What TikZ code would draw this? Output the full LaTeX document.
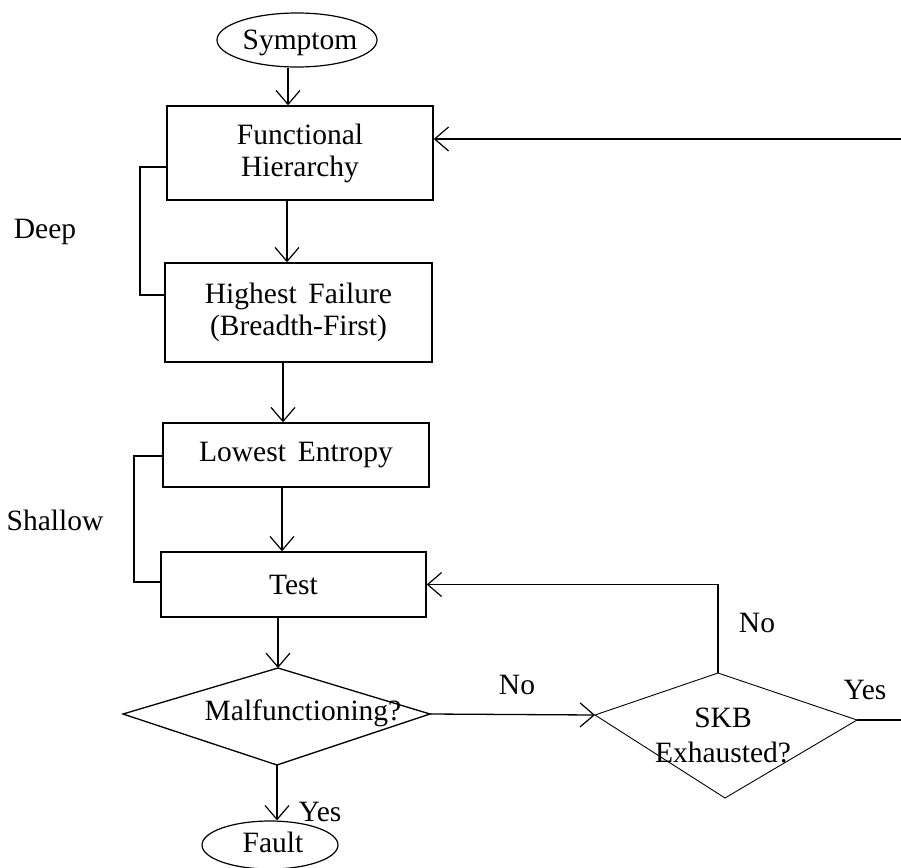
\documentclass[tikz,border=0pt]{standalone}
\usepackage{fontspec}
\setmainfont{Liberation Serif}
\usetikzlibrary{arrows.meta,shapes.geometric}
\tikzset{
  lbl/.style={inner sep=0pt},
  boxnode/.style={draw, line width=1.4pt, rectangle, inner sep=0pt, align=center},
  blob/.style={draw, line width=1.2pt, ellipse, inner sep=0pt},
  lne/.style={line width=1.3pt},
  arr/.style={line width=1.3pt, -{Straight Barb[length=14pt,width=24pt,line width=1.2pt]}},
  thinline/.style={line width=0.9pt}
}
\begin{document}
\begin{tikzpicture}[x=1pt,y=-1pt,font=\fontsize{29.5}{32}\selectfont]
\useasboundingbox (0,0) rectangle (901,867);
% nodes
\node[blob, minimum width=160pt, minimum height=54pt] (symptom) at (297,40) {};
\node[lbl] (symptomtxt) at (300,43) {Symptom};
\node[boxnode, minimum width=266pt, minimum height=94pt] (fh) at (300,153) {Functional\\Hierarchy};
\node[boxnode, minimum width=267pt, minimum height=99pt] (hf) at (298.5,312.5) {Highest\hspace{0.4em}Failure\\(Breadth-First)};
\node[boxnode, minimum width=266pt, minimum height=64pt] (le) at (296,455) {Lowest\hspace{0.4em}Entropy};
\node[boxnode, minimum width=265pt, minimum height=65pt] (test) at (293.5,584.5) {Test};
\node[blob, minimum width=136pt, minimum height=48pt] (fault) at (270,845) {};
\node[lbl] (faulttxt) at (273,842) {Fault};
% Malfunctioning diamond
\coordinate (mL) at (123,714);
\coordinate (mT) at (278,668);
\coordinate (mR) at (430,714);
\coordinate (mB) at (277,765);
\draw[lne] (mL) -- (mT) -- (mR) -- (mB) -- cycle;
\node[lbl] (malf) at (303,713) {Malfunctioning?};
% SKB diamond
\coordinate (sL) at (595,715);
\coordinate (sT) at (718,673);
\coordinate (sR) at (857,720);
\coordinate (sB) at (725,798);
\draw[thinline] (sL) -- (sT) -- (sR) -- (sB) -- cycle;
\node[lbl, align=center, font=\fontsize{29.5}{35}\selectfont] (skb) at (723,735) {SKB\\Exhausted?};
% side labels
\node[lbl] (deep) at (45,232) {Deep};
\node[lbl] (shallow) at (55,520) {Shallow};
% edge coordinates
\coordinate (cS) at (288,0);
\coordinate (cF) at (287,0);
\coordinate (cH) at (283,0);
\coordinate (cL) at (282,0);
\coordinate (eR) at (901,720);
\coordinate (eT) at (901,139);
\coordinate (dA) at (140,167);
\coordinate (dB) at (140,295);
\coordinate (shA) at (134,456);
\coordinate (shB) at (134,582);
% connectors
\draw[arr] (symptom.south -| cS) -- (fh.north -| cS);
\draw[arr] (fh.south -| cF) -- (hf.north -| cF);
\draw[arr] (hf.south -| cH) -- (le.north -| cH);
\draw[arr] (le.south -| cL) -- (test.north -| cL);
\draw[arr] (test.south -| mT) -- (mT);
\draw[arr] (mB) -- (mB |- fault.north);
\node[lbl] (yes1) at (320,812) {Yes};
\draw[arr] (mR) -- (sL);
\node[lbl] (no1) at (517,685) {No};
\draw[arr] (sT) |- (test.east);
\node[lbl] (no2) at (757,623) {No};
\draw[lne] (sR) -- (eR);
\node[lbl] (yes2) at (865,690) {Yes};
\draw[arr] (eT) -- (eT -| fh.east);
% brackets
\draw[lne] (fh.west |- dA) -- (dA) -- (dB) -- (hf.west |- dB);
\draw[lne] (le.west |- shA) -- (shA) -- (shB) -- (test.west |- shB);
\end{tikzpicture}
\end{document}
